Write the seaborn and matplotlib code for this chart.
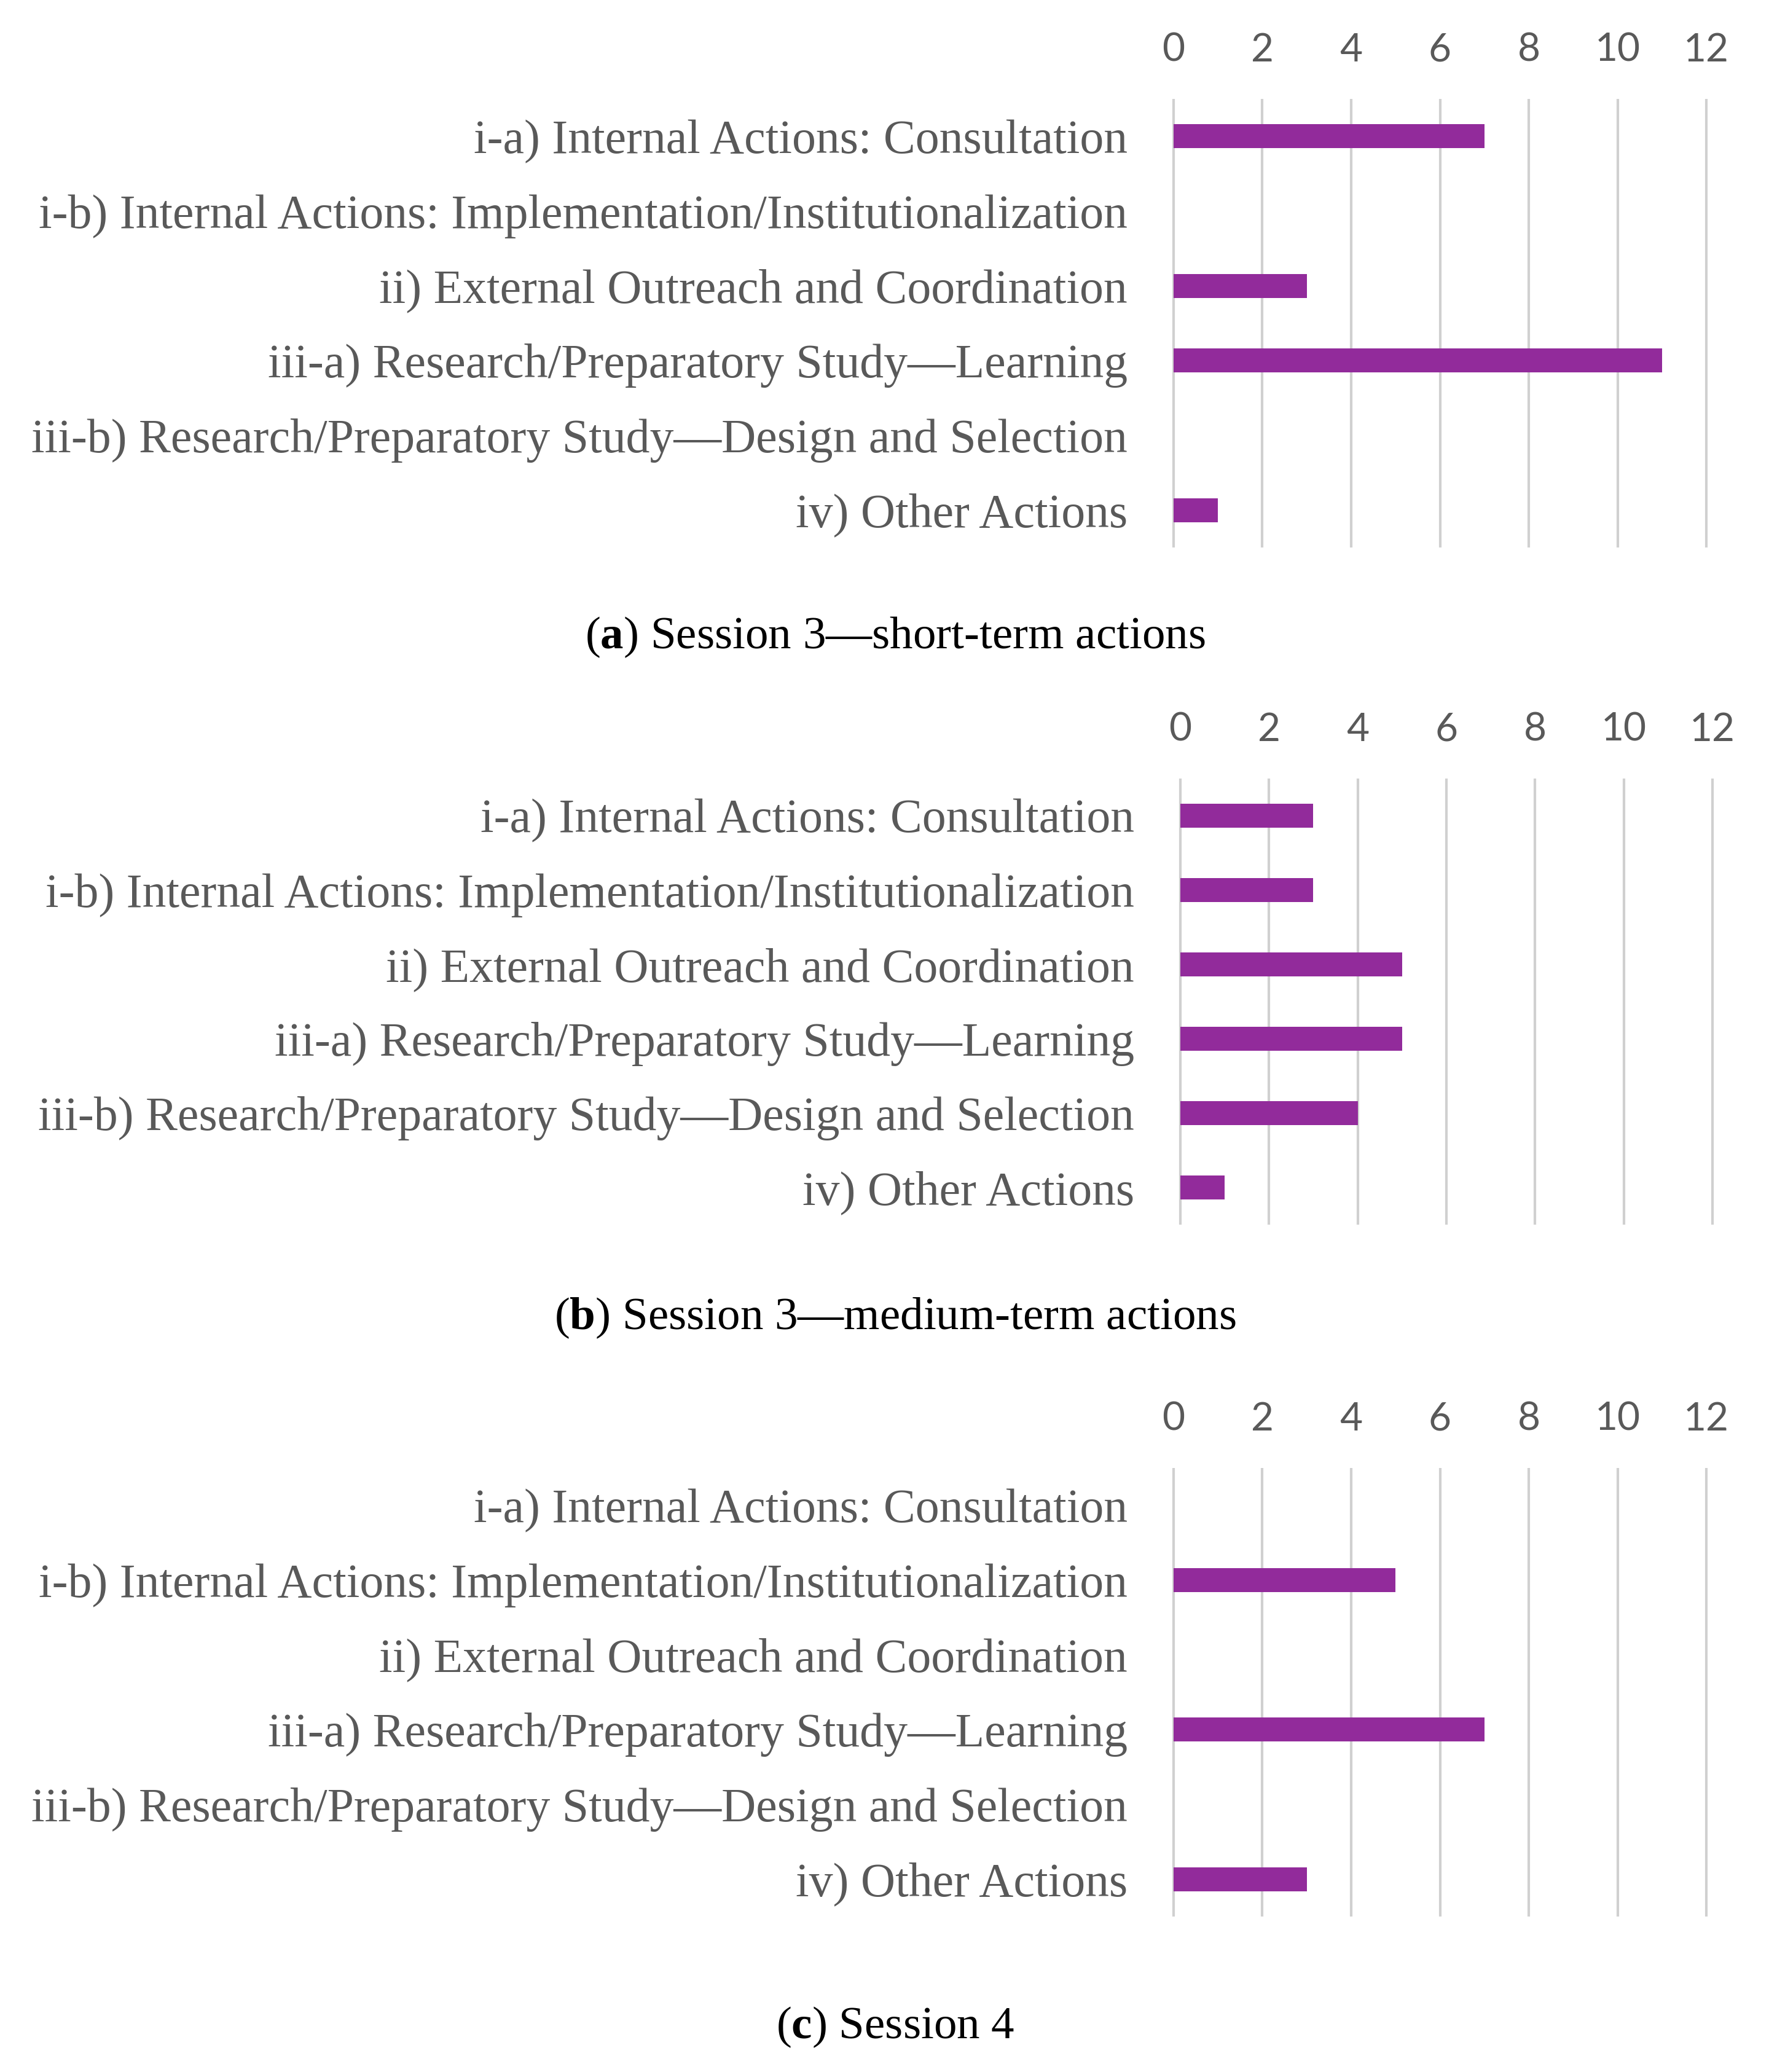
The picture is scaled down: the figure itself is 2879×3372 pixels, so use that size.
import numpy as np
import matplotlib
matplotlib.use("Agg")
import matplotlib.pyplot as plt
import seaborn as sns
import pandas as pd

# categories and counts
categories = [
    "i-a) Internal Actions: Consultation",
    "i-b) Internal Actions: Implementation/Institutionalization",
    "ii) External Outreach and Coordination",
    "iii-a) Research/Preparatory Study\u2014Learning",
    "iii-b) Research/Preparatory Study\u2014Design and Selection",
    "iv) Other Actions",
]
short_term = [7, 0, 3, 11, 0, 1]
medium_term = [3, 3, 5, 5, 4, 1]
session4 = [0, 5, 0, 7, 0, 3]
x_ticks = [0, 2, 4, 6, 8, 10, 12]
captions = [
    "($\\mathbf{a}$) Session 3\u2014short-term actions",
    "($\\mathbf{b}$) Session 3\u2014medium-term actions",
    "($\\mathbf{c}$) Session 4",
]

sns.set_style("white")
plt.rcParams['font.family'] = ['Liberation Serif', 'DejaVu Serif']
plt.rcParams['mathtext.fontset'] = 'custom'
plt.rcParams['mathtext.rm'] = 'Liberation Serif'
plt.rcParams['mathtext.bf'] = 'Liberation Serif:bold'

W, H = 2879, 3372
fig = plt.figure(figsize=(W / 100, H / 100), dpi=100)

# panel boxes in pixels: left, top, right, bottom ; caption y
boxes = [
    (1907, 161, 2780, 891, 1037),
    (1918, 1267, 2790, 1993, 2145),
    (1907, 2389, 2780, 3119, 3299),
]
series = [short_term, medium_term, session4]
grey = "#595959"
bar_col = "#922B9B"

for (l, t, r, b, cy), vals, cap in zip(boxes, series, captions):
    ax = fig.add_axes([l / W, 1 - b / H, (r - l) / W, (b - t) / H])
    df = pd.DataFrame({'Action': categories, 'Count': vals})
    sns.barplot(data=df, y='Action', x='Count', orient='h', color=bar_col,
                saturation=1, width=0.32, linewidth=0, ax=ax)
    ax.set_xlim(-0.04, 12.04)
    ax.set_ylim(5.5, -0.5)
    ax.set_xticks(x_ticks)
    ax.xaxis.tick_top()
    ax.grid(axis='x', color='#d0d0d0', linewidth=3)
    ax.grid(axis='y', visible=False)
    ax.set_axisbelow(True)
    for s in ax.spines.values():
        s.set_visible(False)
    ax.set_xlabel('')
    ax.set_ylabel('')
    ax.tick_params(axis='x', length=0, pad=36, labelsize=46, labelcolor=grey)
    ax.tick_params(axis='y', length=0, pad=52, labelsize=56, labelcolor=grey)
    for lab in ax.get_xticklabels():
        lab.set_family('Lato')
    fig.text(1457 / W, 1 - cy / H, cap, ha='center', va='center',
             fontsize=54, color='black')

fig.savefig('out.png', dpi=100)
